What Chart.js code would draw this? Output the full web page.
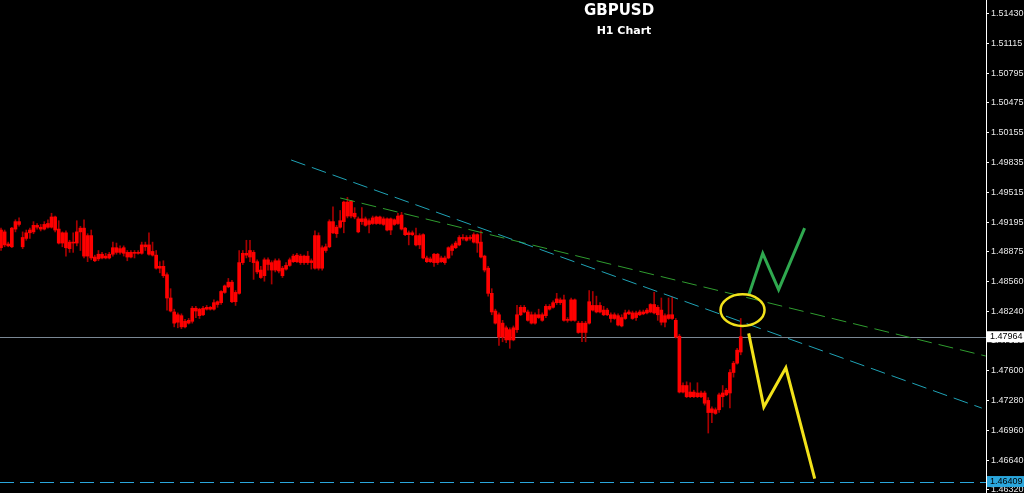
<!DOCTYPE html>
<html>
<head>
<meta charset="utf-8">
<title>GBPUSD H1</title>
<script src="https://cdn.jsdelivr.net/npm/chart.js@4.4.1/dist/chart.umd.min.js"></script>
<style>
  html, body { margin: 0; padding: 0; background: #000; overflow: hidden; }
  #wrap { position: relative; width: 1024px; height: 493px; }
</style>
</head>
<body>
<div id="wrap"><canvas id="chart"></canvas></div>
<script>
// Velas H1 (precios)
const open = [
  1.4911, 1.4909, 1.4894, 1.4893, 1.4912, 1.4920, 1.4903, 1.4902, 1.4908, 1.4909,
  1.4916, 1.4914, 1.4912, 1.4914, 1.4914, 1.4925, 1.4912, 1.4897, 1.4908, 1.4898,
  1.4897, 1.4897, 1.4909, 1.4913, 1.4883, 1.4905, 1.4882, 1.4880, 1.4885, 1.4881,
  1.4881, 1.4885, 1.4892, 1.4887, 1.4892, 1.4887, 1.4882, 1.4887, 1.4886, 1.4886,
  1.4895, 1.4895, 1.4888, 1.4884, 1.4870, 1.4872, 1.4863, 1.4838, 1.4823, 1.4812,
  1.4819, 1.4807, 1.4814, 1.4813, 1.4827, 1.4826, 1.4820, 1.4826, 1.4828, 1.4826,
  1.4831, 1.4833, 1.4844, 1.4850, 1.4855, 1.4834, 1.4843, 1.4876, 1.4886, 1.4882,
  1.4887, 1.4877, 1.4868, 1.4862, 1.4879, 1.4876, 1.4868, 1.4878, 1.4870, 1.4869,
  1.4873, 1.4877, 1.4884, 1.4876, 1.4883, 1.4876, 1.4878, 1.4870, 1.4905, 1.4870,
  1.4889, 1.4893, 1.4920, 1.4907, 1.4914, 1.4920, 1.4941, 1.4926, 1.4929, 1.4923,
  1.4920, 1.4923, 1.4917, 1.4918, 1.4925, 1.4918, 1.4923, 1.4923, 1.4911, 1.4922,
  1.4918, 1.4927, 1.4913, 1.4906, 1.4908, 1.4905, 1.4895, 1.4906, 1.4881, 1.4877,
  1.4876, 1.4885, 1.4877, 1.4881, 1.4881, 1.4889, 1.4892, 1.4895, 1.4903, 1.4900,
  1.4903, 1.4898, 1.4906, 1.4898, 1.4883, 1.4870, 1.4843, 1.4824, 1.4820, 1.4796,
  1.4806, 1.4793, 1.4806, 1.4804, 1.4820, 1.4828, 1.4823, 1.4820, 1.4811, 1.4817,
  1.4820, 1.4819, 1.4829, 1.4828, 1.4833, 1.4836, 1.4836, 1.4814, 1.4814, 1.4836,
  1.4811, 1.4801, 1.4811, 1.4811, 1.4830, 1.4823, 1.4830, 1.4825, 1.4820, 1.4820,
  1.4816, 1.4819, 1.4808, 1.4816, 1.4821, 1.4822, 1.4817, 1.4820, 1.4823, 1.4822,
  1.4823, 1.4831, 1.4820, 1.4825, 1.4812, 1.4820, 1.4816, 1.4814, 1.4797, 1.4737,
  1.4744, 1.4732, 1.4737, 1.4732, 1.4736, 1.4736, 1.4728, 1.4715, 1.4718, 1.4718,
  1.4732, 1.4734, 1.4736, 1.4758, 1.4768, 1.4780
];
const high = [
  1.4913, 1.4911, 1.4898, 1.4914, 1.4922, 1.4924, 1.4909, 1.4911, 1.4913, 1.4920,
  1.4918, 1.4917, 1.4920, 1.4922, 1.4929, 1.4926, 1.4921, 1.4909, 1.4910, 1.4900,
  1.4908, 1.4921, 1.4915, 1.4922, 1.4907, 1.4911, 1.4884, 1.4889, 1.4887, 1.4886,
  1.4887, 1.4898, 1.4897, 1.4894, 1.4894, 1.4889, 1.4889, 1.4889, 1.4889, 1.4898,
  1.4898, 1.4908, 1.4898, 1.4889, 1.4877, 1.4878, 1.4865, 1.4848, 1.4826, 1.4822,
  1.4821, 1.4815, 1.4816, 1.4829, 1.4829, 1.4827, 1.4829, 1.4830, 1.4829, 1.4836,
  1.4835, 1.4846, 1.4852, 1.4859, 1.4857, 1.4846, 1.4889, 1.4889, 1.4900, 1.4900,
  1.4889, 1.4879, 1.4872, 1.4881, 1.4881, 1.4878, 1.4880, 1.4880, 1.4872, 1.4876,
  1.4881, 1.4885, 1.4886, 1.4885, 1.4884, 1.4888, 1.4880, 1.4910, 1.4908, 1.4894,
  1.4896, 1.4922, 1.4936, 1.4916, 1.4932, 1.4942, 1.4946, 1.4943, 1.4935, 1.4925,
  1.4935, 1.4925, 1.4923, 1.4926, 1.4926, 1.4926, 1.4925, 1.4924, 1.4924, 1.4923,
  1.4929, 1.4930, 1.4914, 1.4910, 1.4910, 1.4913, 1.4907, 1.4907, 1.4883, 1.4882,
  1.4886, 1.4886, 1.4883, 1.4883, 1.4893, 1.4896, 1.4899, 1.4905, 1.4906, 1.4905,
  1.4905, 1.4908, 1.4907, 1.4910, 1.4884, 1.4872, 1.4848, 1.4826, 1.4822, 1.4814,
  1.4808, 1.4806, 1.4808, 1.4830, 1.4830, 1.4830, 1.4825, 1.4823, 1.4822, 1.4826,
  1.4822, 1.4831, 1.4831, 1.4835, 1.4843, 1.4838, 1.4841, 1.4817, 1.4838, 1.4837,
  1.4813, 1.4813, 1.4813, 1.4846, 1.4845, 1.4840, 1.4833, 1.4829, 1.4827, 1.4822,
  1.4822, 1.4821, 1.4820, 1.4825, 1.4825, 1.4824, 1.4824, 1.4825, 1.4825, 1.4827,
  1.4832, 1.4844, 1.4830, 1.4838, 1.4821, 1.4838, 1.4839, 1.4816, 1.4799, 1.4747,
  1.4748, 1.4747, 1.4739, 1.4747, 1.4738, 1.4738, 1.4731, 1.4721, 1.4720, 1.4736,
  1.4744, 1.4741, 1.4761, 1.4770, 1.4784, 1.4816
];
const low = [
  1.4889, 1.4893, 1.4893, 1.4892, 1.4909, 1.4915, 1.4891, 1.4900, 1.4902, 1.4907,
  1.4912, 1.4910, 1.4911, 1.4913, 1.4913, 1.4909, 1.4896, 1.4893, 1.4883, 1.4887,
  1.4887, 1.4894, 1.4889, 1.4881, 1.4877, 1.4879, 1.4877, 1.4878, 1.4880, 1.4880,
  1.4880, 1.4883, 1.4885, 1.4885, 1.4883, 1.4878, 1.4881, 1.4881, 1.4885, 1.4885,
  1.4889, 1.4884, 1.4883, 1.4869, 1.4865, 1.4860, 1.4825, 1.4823, 1.4807, 1.4806,
  1.4805, 1.4806, 1.4810, 1.4811, 1.4817, 1.4816, 1.4819, 1.4825, 1.4825, 1.4825,
  1.4828, 1.4831, 1.4843, 1.4849, 1.4833, 1.4830, 1.4842, 1.4874, 1.4881, 1.4877,
  1.4858, 1.4864, 1.4859, 1.4856, 1.4868, 1.4853, 1.4866, 1.4865, 1.4860, 1.4868,
  1.4872, 1.4876, 1.4876, 1.4874, 1.4874, 1.4874, 1.4869, 1.4869, 1.4868, 1.4868,
  1.4887, 1.4892, 1.4907, 1.4903, 1.4913, 1.4908, 1.4924, 1.4924, 1.4923, 1.4908,
  1.4917, 1.4915, 1.4908, 1.4917, 1.4917, 1.4917, 1.4916, 1.4910, 1.4906, 1.4916,
  1.4917, 1.4911, 1.4905, 1.4895, 1.4905, 1.4894, 1.4891, 1.4880, 1.4876, 1.4876,
  1.4872, 1.4874, 1.4876, 1.4874, 1.4880, 1.4884, 1.4891, 1.4894, 1.4900, 1.4899,
  1.4900, 1.4897, 1.4887, 1.4881, 1.4866, 1.4840, 1.4820, 1.4810, 1.4787, 1.4791,
  1.4790, 1.4784, 1.4792, 1.4801, 1.4819, 1.4822, 1.4813, 1.4810, 1.4810, 1.4816,
  1.4813, 1.4817, 1.4825, 1.4827, 1.4831, 1.4831, 1.4813, 1.4812, 1.4813, 1.4813,
  1.4800, 1.4791, 1.4791, 1.4810, 1.4824, 1.4822, 1.4822, 1.4819, 1.4819, 1.4812,
  1.4815, 1.4808, 1.4807, 1.4815, 1.4820, 1.4815, 1.4814, 1.4819, 1.4820, 1.4821,
  1.4822, 1.4821, 1.4814, 1.4809, 1.4807, 1.4815, 1.4815, 1.4795, 1.4736, 1.4736,
  1.4731, 1.4731, 1.4731, 1.4731, 1.4731, 1.4723, 1.4693, 1.4704, 1.4713, 1.4715,
  1.4721, 1.4733, 1.4720, 1.4753, 1.4767, 1.4777
];
const close = [
  1.4892, 1.4895, 1.4896, 1.4913, 1.4920, 1.4917, 1.4893, 1.4908, 1.4911, 1.4916,
  1.4914, 1.4912, 1.4917, 1.4918, 1.4925, 1.4911, 1.4897, 1.4908, 1.4892, 1.4891,
  1.4898, 1.4909, 1.4913, 1.4883, 1.4905, 1.4881, 1.4878, 1.4885, 1.4881, 1.4883,
  1.4885, 1.4892, 1.4887, 1.4891, 1.4886, 1.4882, 1.4887, 1.4886, 1.4887, 1.4895,
  1.4893, 1.4885, 1.4884, 1.4870, 1.4872, 1.4862, 1.4838, 1.4824, 1.4811, 1.4820,
  1.4807, 1.4813, 1.4811, 1.4827, 1.4824, 1.4819, 1.4827, 1.4828, 1.4826, 1.4833,
  1.4834, 1.4845, 1.4851, 1.4855, 1.4834, 1.4844, 1.4876, 1.4886, 1.4884, 1.4889,
  1.4876, 1.4866, 1.4860, 1.4879, 1.4874, 1.4868, 1.4878, 1.4867, 1.4862, 1.4873,
  1.4879, 1.4883, 1.4877, 1.4883, 1.4876, 1.4883, 1.4876, 1.4905, 1.4870, 1.4892,
  1.4893, 1.4920, 1.4908, 1.4914, 1.4921, 1.4941, 1.4926, 1.4942, 1.4925, 1.4909,
  1.4923, 1.4916, 1.4921, 1.4924, 1.4918, 1.4925, 1.4917, 1.4911, 1.4923, 1.4917,
  1.4926, 1.4912, 1.4906, 1.4908, 1.4906, 1.4895, 1.4905, 1.4881, 1.4877, 1.4880,
  1.4885, 1.4876, 1.4881, 1.4876, 1.4892, 1.4894, 1.4897, 1.4903, 1.4902, 1.4903,
  1.4902, 1.4906, 1.4897, 1.4882, 1.4868, 1.4843, 1.4823, 1.4811, 1.4796, 1.4811,
  1.4793, 1.4804, 1.4793, 1.4820, 1.4828, 1.4823, 1.4814, 1.4811, 1.4820, 1.4820,
  1.4814, 1.4829, 1.4826, 1.4833, 1.4837, 1.4833, 1.4814, 1.4815, 1.4836, 1.4814,
  1.4801, 1.4811, 1.4801, 1.4834, 1.4825, 1.4830, 1.4823, 1.4820, 1.4825, 1.4816,
  1.4820, 1.4809, 1.4817, 1.4822, 1.4823, 1.4816, 1.4822, 1.4823, 1.4821, 1.4825,
  1.4831, 1.4822, 1.4828, 1.4812, 1.4819, 1.4816, 1.4820, 1.4796, 1.4737, 1.4744,
  1.4732, 1.4737, 1.4732, 1.4736, 1.4732, 1.4725, 1.4715, 1.4719, 1.4714, 1.4734,
  1.4736, 1.4739, 1.4758, 1.4768, 1.4782, 1.47964
];

// Eje de precios
const priceTicks = [1.51430, 1.51115, 1.50795, 1.50475, 1.50155, 1.49835, 1.49515, 1.49195,
  1.48875, 1.48560, 1.48240, 1.47920, 1.47600, 1.47280, 1.46960, 1.46640, 1.46320];
const priceMin = 1.46286;
const priceMax = 1.51580;
const barMin = -0.28;
const barMax = 272.97;

// Líneas de precio
const bidPrice = 1.47964;
const levelPrice = 1.46409;

// Líneas de tendencia (x = número de vela)
const cyanTrendX = [80.4, 271.8];
const cyanTrendY = [1.49862, 1.47198];
const greenTrendX = [94.0, 272.9];
const greenTrendY = [1.49454, 1.47757];

// Escenarios
const upPathX = [207.2, 211.1, 215.5, 222.7];
const upPathY = [1.4841, 1.4886, 1.4847, 1.4913];
const downPathX = [207.2, 211.4, 217.5, 225.5];
const downPathY = [1.4800, 1.4721, 1.4763, 1.4644];

// Círculo sobre la vela actual
const markCenter = [205.5, 1.4825];
const markRadius = [6.1, 0.0017];

const pts = (xs, ys) => xs.map((x, i) => ({ x: x, y: ys[i] }));
const wicks = open.map((o, i) => ({ x: i, y: [low[i], high[i]] }));
const bodies = open.map((o, i) => ({ x: i, y: [Math.min(o, close[i]), Math.max(o, close[i])] }));

const lineSet = (label, data, color, width, dash) => ({
  type: "line", label: label, data: data, borderColor: color, borderWidth: width,
  borderDash: dash, pointRadius: 0, fill: false, tension: 0
});

const overlay = {
  id: "overlay",
  beforeDraw(chart) {
    const c = chart.ctx;
    c.save();
    c.fillStyle = "#000000";
    c.fillRect(0, 0, chart.width, chart.height);
    c.restore();
  },
  beforeDatasetsDraw(chart) {
    const c = chart.ctx, a = chart.chartArea, y = chart.scales.y;
    c.save();
    let py = Math.round(y.getPixelForValue(bidPrice)) + 0.5;
    c.strokeStyle = "#7a8794";
    c.lineWidth = 1;
    c.beginPath(); c.moveTo(a.left, py); c.lineTo(a.right, py); c.stroke();
    py = Math.round(y.getPixelForValue(levelPrice)) + 0.5;
    c.strokeStyle = "#2aa6dc";
    c.setLineDash([14, 6]);
    c.beginPath(); c.moveTo(a.left, py); c.lineTo(a.right, py); c.stroke();
    c.restore();
  },
  afterDatasetsDraw(chart) {
    const c = chart.ctx, x = chart.scales.x, y = chart.scales.y;
    const cx = x.getPixelForValue(markCenter[0]);
    const cy = y.getPixelForValue(markCenter[1]);
    const rx = x.getPixelForValue(markCenter[0] + markRadius[0]) - cx;
    const ry = cy - y.getPixelForValue(markCenter[1] + markRadius[1]);
    c.save();
    c.strokeStyle = "#f2e21a";
    c.lineWidth = 2.5;
    c.beginPath(); c.ellipse(cx, cy, rx, ry, 0, 0, Math.PI * 2); c.stroke();
    c.restore();
  },
  afterDraw(chart) {
    const c = chart.ctx, a = chart.chartArea, y = chart.scales.y;
    c.save();
    c.font = '9px "Liberation Sans"';
    c.textBaseline = "middle";
    c.textAlign = "left";
    let py = y.getPixelForValue(bidPrice);
    c.fillStyle = "#ffffff";
    c.fillRect(a.right + 1, py - 5.5, 37, 11);
    c.fillStyle = "#000000";
    c.fillText(bidPrice.toFixed(5), a.right + 4, py);
    py = y.getPixelForValue(levelPrice);
    c.fillStyle = "#2aa6dc";
    c.fillRect(a.right + 1, py - 5.5, 37, 11);
    c.fillStyle = "#000000";
    c.fillText(levelPrice.toFixed(5), a.right + 4, py);
    // Título
    c.fillStyle = "#ffffff";
    c.textAlign = "center";
    c.font = 'bold 15px "DejaVu Sans"';
    c.fillText("GBPUSD", 619, 11);
    c.font = 'bold 11px "DejaVu Sans"';
    c.fillText("H1 Chart", 624, 31);
    c.restore();
  }
};

new Chart(document.getElementById("chart"), {
  type: "bar",
  data: {
    datasets: [
      lineSet("Escenario alcista", pts(upPathX, upPathY), "#2fa84f", 3, []),
      lineSet("Escenario bajista", pts(downPathX, downPathY), "#f2e21a", 3, []),
      lineSet("Tendencia 1", pts(cyanTrendX, cyanTrendY), "#1fa3b6", 1, [15, 7]),
      lineSet("Tendencia 2", pts(greenTrendX, greenTrendY), "#2f9c2f", 1, [15, 7]),
      { label: "Cuerpos", data: bodies, backgroundColor: "#ff0000", barThickness: 3, grouped: false },
      { label: "Mechas", data: wicks, backgroundColor: "#a80000", barThickness: 1, grouped: false }
    ]
  },
  options: {
    responsive: true,
    maintainAspectRatio: false,
    animation: false,
    layout: { padding: 0, autoPadding: false },
    plugins: { legend: { display: false }, tooltip: { enabled: false }, title: { display: false } },
    scales: {
      x: { type: "linear", min: barMin, max: barMax, offset: false, display: false },
      y: {
        type: "linear",
        position: "right",
        min: priceMin,
        max: priceMax,
        afterBuildTicks: s => { s.ticks = priceTicks.map(v => ({ value: v })); },
        afterFit: s => { s.width = 38; s.paddingTop = 0; s.paddingBottom = 0; },
        ticks: {
          color: "#e8e8e8",
          font: { family: "Liberation Sans", size: 9 },
          padding: 2,
          autoSkip: false,
          callback: v => Number(v).toFixed(5)
        },
        grid: { drawOnChartArea: false, drawTicks: true, tickLength: 3, color: "#ffffff" },
        border: { display: true, color: "#ffffff", width: 1 }
      }
    }
  },
  plugins: [overlay]
});
</script>
</body>
</html>
